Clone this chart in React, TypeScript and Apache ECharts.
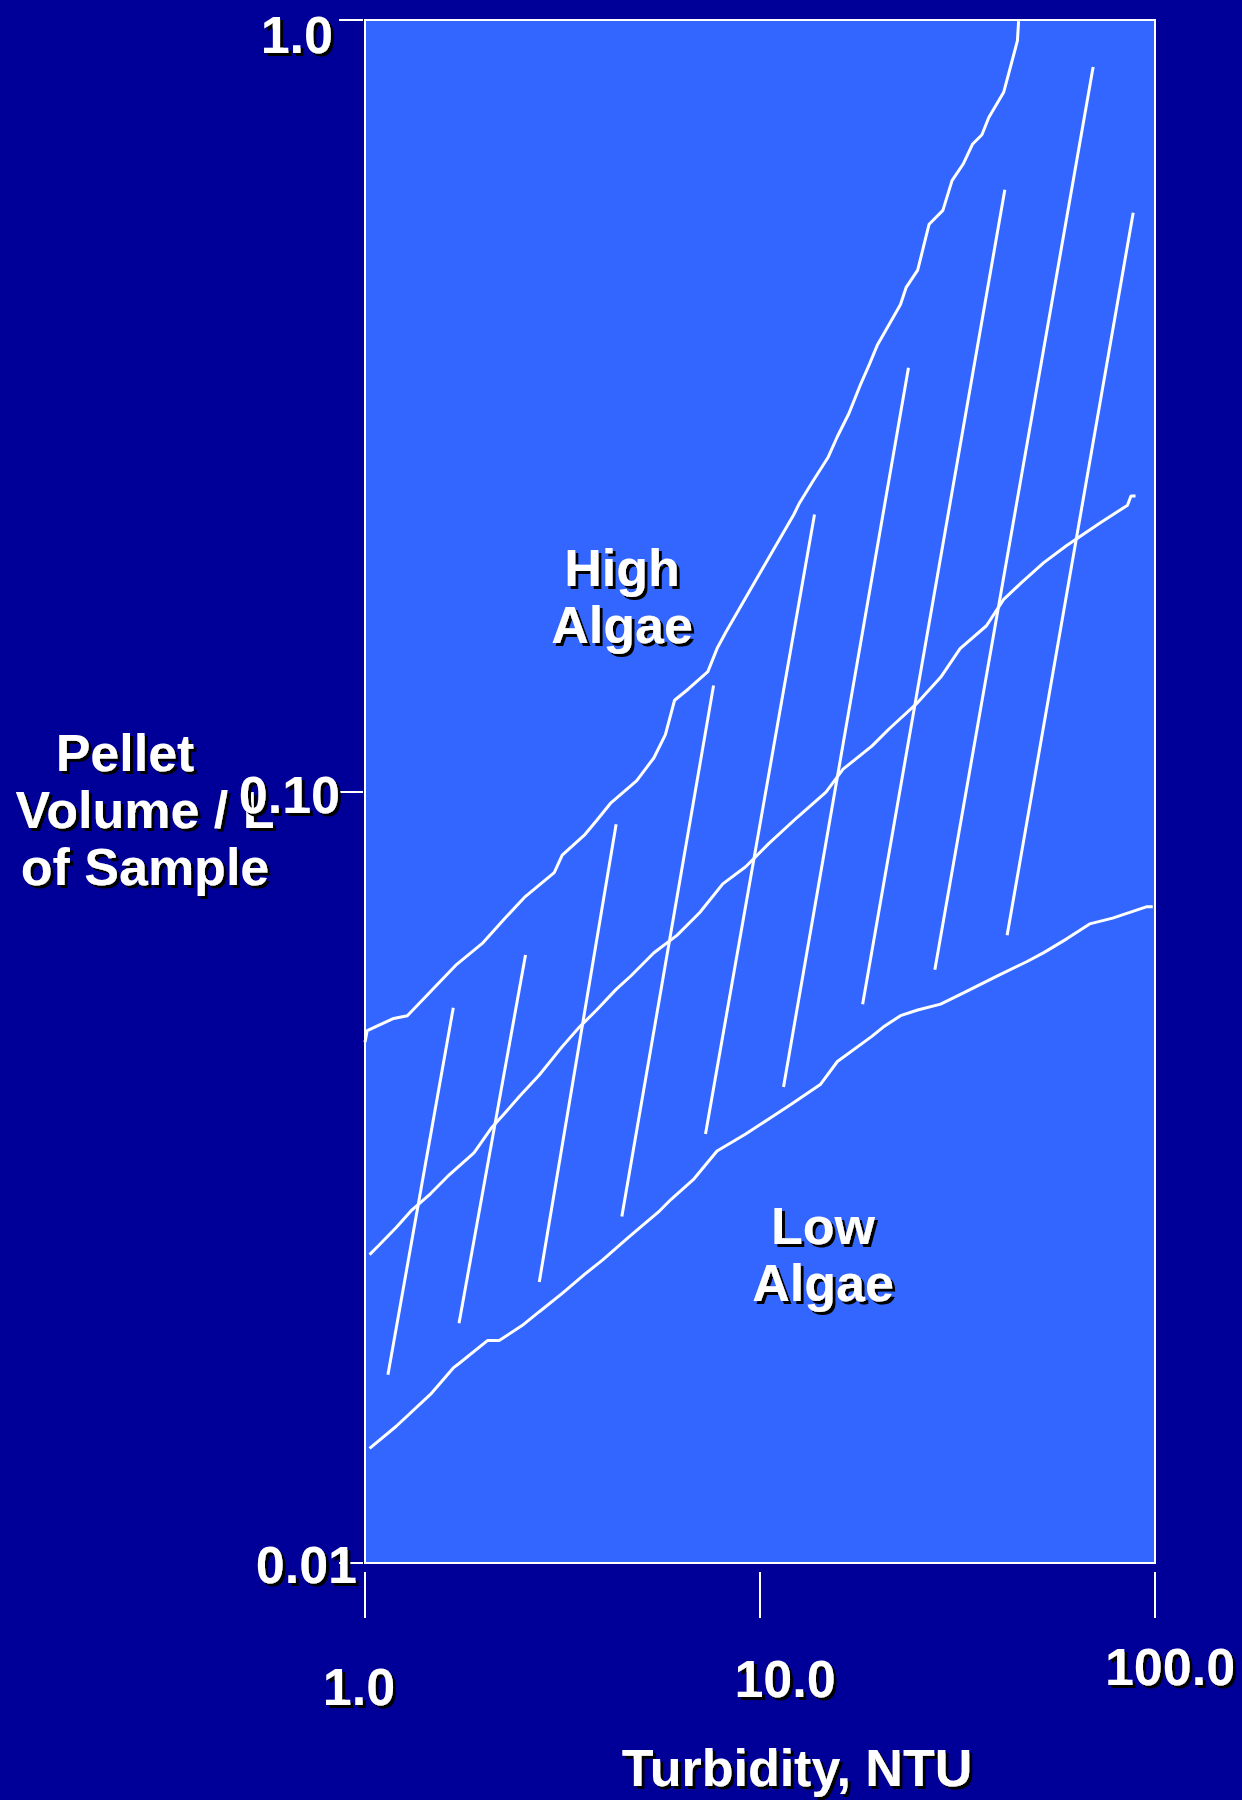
import React, { useEffect, useRef } from "react";
import * as echarts from "echarts";

// Turbidity (NTU) vs pellet volume per litre, both on log scales.
const turbidityTickLabels = ["1.0", "10.0", "100.0"];
const volumeTickLabels = ["0.01", "0.10", "1.0"];

// Upper boundary: high algae content
const highAlgaeLine: [number, number][] = [
  [1.0, 0.0473], [1.013, 0.049], [1.182, 0.0508], [1.28, 0.0512], [1.707, 0.0597],
  [1.978, 0.0635], [2.261, 0.0685], [2.532, 0.0729], [3.013, 0.0785], [3.157, 0.0827],
  [3.608, 0.088], [3.858, 0.0917], [4.18, 0.0965], [4.875, 0.1033], [5.389, 0.1106],
  [5.761, 0.1185], [6.077, 0.1313], [6.587, 0.1358], [7.379, 0.143], [7.784, 0.1532],
  [8.212, 0.1612], [12.18, 0.2286], [12.59, 0.2366], [13.56, 0.2517], [14.89, 0.2714],
  [15.7, 0.2885], [16.79, 0.309], [17.95, 0.3366], [18.93, 0.358], [19.84, 0.3795],
  [22.68, 0.4278], [23.45, 0.4503], [25.07, 0.4739], [25.92, 0.5076], [26.8, 0.5436],
  [29.04, 0.5665], [30.63, 0.6191], [32.75, 0.6517], [34.55, 0.6908], [36.46, 0.71],
  [37.95, 0.7475], [41.39, 0.8058], [44.85, 0.9401], [45.15, 0.9965],
];

// Middle line
const midAlgaeLine: [number, number][] = [
  [1.027, 0.0251], [1.083, 0.0258], [1.198, 0.0272], [1.307, 0.0286], [1.464, 0.0301],
  [1.618, 0.0317], [1.887, 0.034], [2.086, 0.0366], [2.261, 0.0383], [2.465, 0.0403],
  [2.762, 0.0429], [3.157, 0.0467], [3.49, 0.0495], [3.858, 0.0521], [4.323, 0.0554],
  [4.715, 0.0577], [5.389, 0.0618], [6.16, 0.0651], [7.04, 0.0697], [8.049, 0.0759],
  [9.199, 0.0799], [10.52, 0.0856], [12.43, 0.0926], [14.69, 0.0998], [16.23, 0.1069],
  [19.19, 0.1145], [21.21, 0.1205], [25.07, 0.1304], [28.66, 0.1406], [32.1, 0.1532],
  [37.44, 0.164], [41.39, 0.1774], [45.76, 0.1862], [52.29, 0.198], [59.77, 0.2084],
  [73.04, 0.2233], [85.19, 0.235], [86.91, 0.2415], [89.27, 0.2415],
];

// Lower boundary: low algae content
const lowAlgaeLine: [number, number][] = [
  [1.027, 0.01408], [1.198, 0.01503], [1.464, 0.01654], [1.673, 0.0179], [1.73, 0.01814],
  [2.045, 0.01943], [2.186, 0.01943], [2.498, 0.02031], [2.762, 0.02117], [3.157, 0.02236],
  [3.608, 0.0237], [3.991, 0.02469], [4.652, 0.02645], [5.572, 0.02861], [5.957, 0.02961],
  [6.809, 0.03148], [7.784, 0.0342], [9.199, 0.03598], [10.52, 0.03763], [12.02, 0.03934],
  [14.21, 0.0417], [15.7, 0.04467], [19.19, 0.04815], [20.51, 0.0495], [22.68, 0.05122],
  [25.07, 0.0521], [28.66, 0.05301], [32.75, 0.05483], [40.03, 0.05773], [47.31, 0.06016],
  [52.29, 0.06183], [59.77, 0.06442], [68.33, 0.06736], [78.1, 0.06853], [86.34, 0.0697],
  [95.43, 0.07091], [98.67, 0.07091],
];

// Steep reference lines: [turbidity, volume] at the lower and upper ends
const steepLineStarts: [number, number][] = [
  [1.143, 0.01754], [1.73, 0.02045], [2.762, 0.02313], [4.469, 0.02812], [7.279, 0.03598],
  [11.47, 0.04141], [18.19, 0.05301], [27.71, 0.05873], [42.23, 0.0651],
];
const steepLineEnds: [number, number][] = [
  [1.673, 0.05245], [2.549, 0.0614], [4.323, 0.0907], [7.628, 0.1372], [13.74, 0.2286],
  [23.76, 0.3543], [41.67, 0.6026], [69.72, 0.869], [88.07, 0.5626],
];

const FONT = "'Liberation Sans', Arial, Helvetica, sans-serif";
const WHITE = "#ffffff";
const NAVY = "#000099";
const PLOT_BLUE = "#3366ff";

const textBase = {
  color: WHITE,
  fontFamily: FONT,
  fontWeight: "bold" as const,
  fontSize: 52,
  textShadowColor: "#000000",
  textShadowBlur: 0.1,
  textShadowOffsetX: 3,
  textShadowOffsetY: 3,
};

function decade(v: number): number {
  return Math.round(Math.log10(v));
}

export default function App() {
  const ref = useRef<HTMLDivElement>(null);

  useEffect(() => {
    if (!ref.current) return;
    const chart = echarts.init(ref.current, undefined, { renderer: "svg" });

    const lineStyle = { color: WHITE, width: 3 };
    const curve = (name: string, data: [number, number][]) => ({
      name,
      type: "line" as const,
      data,
      showSymbol: false,
      symbol: "none",
      silent: true,
      lineStyle,
      z: 3,
    });

    const steepSeries = steepLineStarts.map((start, i) =>
      curve(`steep-${i}`, [start, steepLineEnds[i]])
    );

    const annotation = (id: string, text: string, x: number, y: number) => ({
      id,
      type: "text" as const,
      x,
      y,
      z: 10,
      style: {
        text,
        align: "center",
        verticalAlign: "middle",
        lineHeight: 57,
        font: `bold 52px ${FONT}`,
        fill: WHITE,
        textShadowColor: "#000000",
        textShadowOffsetX: 3,
        textShadowOffsetY: 3,
        textShadowBlur: 0.1,
      },
    });

    chart.setOption({
      animation: false,
      backgroundColor: NAVY,
      grid: {
        left: 365,
        top: 20,
        width: 790,
        height: 1543,
        show: true,
        backgroundColor: PLOT_BLUE,
        borderColor: WHITE,
        borderWidth: 2,
        containLabel: false,
        outerBoundsMode: "none",
      },
      xAxis: {
        type: "log",
        logBase: 10,
        min: 1,
        max: 100,
        offset: 9,
        axisLine: { show: false },
        axisTick: { show: true, length: 46, lineStyle: { color: WHITE, width: 2 } },
        splitLine: { show: false },
        minorTick: { show: false },
        axisLabel: {
          margin: 59,
          ...textBase,
          formatter: (v: number) => {
            const k = decade(v);
            return `{t${k}|${turbidityTickLabels[k]}}`;
          },
          rich: {
            t0: { ...textBase, padding: [30, 12, 0, 0] },
            t1: { ...textBase, padding: [22, 0, 0, 50] },
            t2: { ...textBase, padding: [10, 0, 0, 30] },
          },
        },
        name: "Turbidity, NTU",
        nameLocation: "middle",
        nameGap: 196,
        nameMoveOverlap: false,
        nameTextStyle: {
          ...textBase,
          align: "center",
          verticalAlign: "middle",
          padding: [0, 0, 0, 74],
        },
      },
      yAxis: {
        type: "log",
        logBase: 10,
        min: 0.01,
        max: 1,
        offset: 2,
        axisLine: { show: false },
        axisTick: { show: true, length: 24, lineStyle: { color: WHITE, width: 2 } },
        splitLine: { show: false },
        minorTick: { show: false },
        axisLabel: {
          margin: 6,
          ...textBase,
          formatter: (v: number) => {
            const k = decade(v) + 2;
            return `{v${k}|${volumeTickLabels[k]}}`;
          },
          rich: {
            v0: { ...textBase, padding: [4, 0, 0, 0] },
            v1: { ...textBase, padding: [6, 17, 0, 0] },
            v2: { ...textBase, padding: [30, 24, 0, 0] },
          },
        },
        name: "{p|Pellet}\nVolume / L\nof Sample",
        nameLocation: "middle",
        nameGap: 218,
        nameRotate: 0,
        nameMoveOverlap: false,
        nameTextStyle: {
          ...textBase,
          lineHeight: 57,
          align: "center",
          verticalAlign: "middle",
          padding: [36, 0, 0, 0],
          rich: {
            p: { ...textBase, lineHeight: 57, padding: [0, 40, 0, 0] },
          },
        },
      },
      graphic: [
        annotation("high-label", "High\nAlgae", 622, 596),
        annotation("low-label", "Low\nAlgae", 823, 1254),
      ],
      series: [
        curve("high", highAlgaeLine),
        curve("mid", midAlgaeLine),
        curve("low", lowAlgaeLine),
        ...steepSeries,
      ],
    });

    return () => chart.dispose();
  }, []);

  return (
    <div
      ref={ref}
      style={{ position: "absolute", left: 0, top: 0, width: 1242, height: 1800 }}
    />
  );
}
